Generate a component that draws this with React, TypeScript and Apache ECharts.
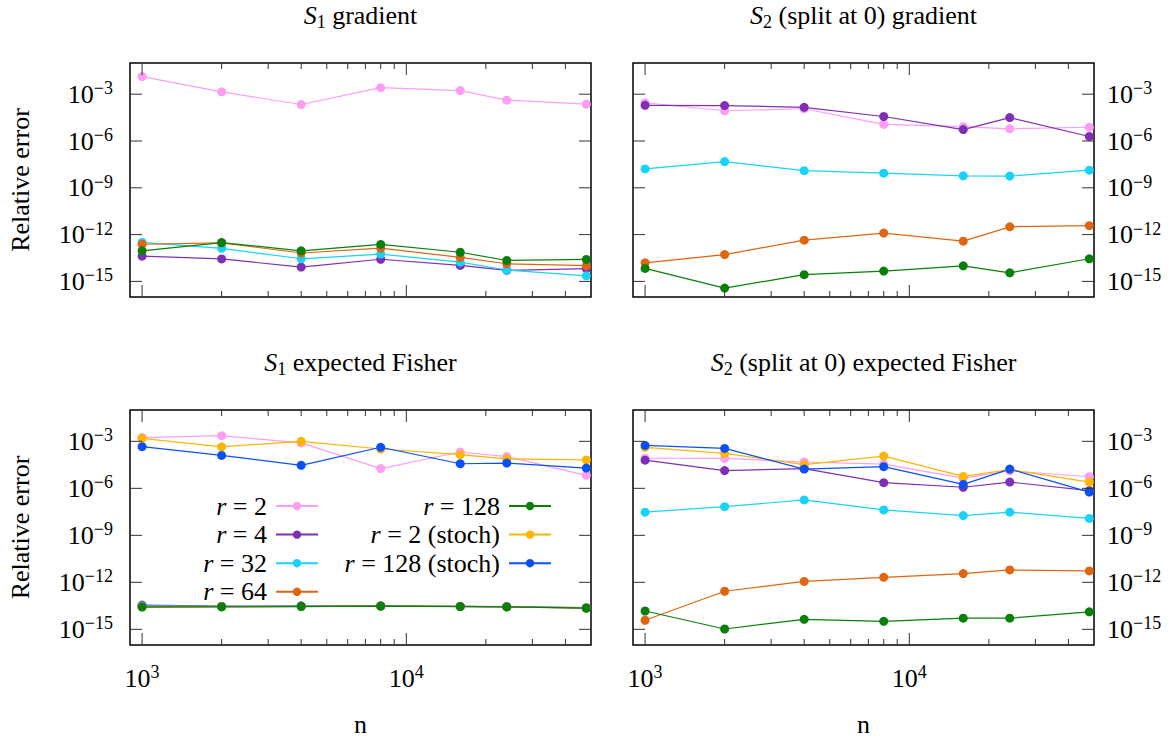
import React, { useEffect, useRef } from 'react';
import * as echarts from 'echarts';

const FONT = "'Liberation Serif', 'DejaVu Serif', serif";

// x values (n) and axis ticks
const nValues = [1000, 2000, 4000, 8000, 16000, 24000, 48000];
const xMajorTicks = [1000, 10000];
const xMajorExps = ['3', '4'];
const xMinorTicks = [2000, 3000, 4000, 5000, 6000, 7000, 8000, 9000, 20000, 30000, 40000];
const yTickValues = [1e-3, 1e-6, 1e-9, 1e-12, 1e-15];
const yTickExps = ['\u22123', '\u22126', '\u22129', '\u221212', '\u221215'];
const X_MIN = 900;
const X_MAX = 50000;
const Y_MIN = 1e-16;
const Y_MAX = 1e-1;

const seriesNames = ['r = 2', 'r = 4', 'r = 32', 'r = 64', 'r = 128', 'r = 2 (stoch)', 'r = 128 (stoch)'];
const seriesColors = ['#fd9ef4', '#7e2fb4', '#17d3f7', '#e06510', '#0a800a', '#fdb600', '#0a50f7'];

// S1 gradient
const s1GradR2 = [1.35e-2, 1.41e-3, 2.19e-4, 2.63e-3, 1.70e-3, 4.17e-4, 2.29e-4];
const s1GradR4 = [4.17e-14, 2.75e-14, 8.32e-15, 2.63e-14, 1.05e-14, 5.13e-15, 6.61e-15];
const s1GradR32 = [3.16e-13, 1.32e-13, 2.82e-14, 5.62e-14, 1.70e-14, 5.37e-15, 2.29e-15];
const s1GradR64 = [2.40e-13, 2.95e-13, 6.61e-14, 1.35e-13, 3.47e-14, 1.35e-14, 1.02e-14];
const s1GradR128 = [9.12e-14, 3.09e-13, 9.12e-14, 2.34e-13, 7.41e-14, 2.19e-14, 2.57e-14];

// S2 (split at 0) gradient
const s2GradR2 = [2.82e-4, 8.71e-5, 1.17e-4, 1.15e-5, 8.32e-6, 6.03e-6, 7.59e-6];
const s2GradR4 = [1.95e-4, 1.86e-4, 1.45e-4, 3.72e-5, 5.37e-6, 3.16e-5, 1.95e-6];
const s2GradR32 = [1.62e-8, 4.79e-8, 1.26e-8, 8.71e-9, 5.89e-9, 5.62e-9, 1.35e-8];
const s2GradR64 = [1.55e-14, 5.25e-14, 4.37e-13, 1.26e-12, 3.80e-13, 3.16e-12, 3.72e-12];
const s2GradR128 = [6.76e-15, 3.72e-16, 2.69e-15, 4.57e-15, 1.0e-14, 3.55e-15, 2.82e-14];

// S1 expected Fisher
const s1FishR2 = [1.74e-3, 2.29e-3, 7.94e-4, 1.82e-5, 2.09e-4, 1.07e-4, 6.76e-6];
const s1FishR4 = [3.55e-14, 3.02e-14, 3.16e-14, 3.16e-14, 2.95e-14, 2.82e-14, 2.40e-14];
const s1FishR32 = [3.16e-14, 2.88e-14, 3.02e-14, 3.09e-14, 2.88e-14, 2.75e-14, 2.34e-14];
const s1FishR64 = [2.82e-14, 2.82e-14, 2.95e-14, 3.09e-14, 2.88e-14, 2.75e-14, 2.29e-14];
const s1FishR128 = [2.63e-14, 2.69e-14, 2.82e-14, 3.02e-14, 2.82e-14, 2.69e-14, 2.24e-14];
const s1FishStoch2 = [1.55e-3, 4.47e-4, 1.0e-3, 3.24e-4, 1.41e-4, 7.59e-5, 6.46e-5];
const s1FishStoch128 = [4.57e-4, 1.26e-4, 2.95e-5, 4.17e-4, 3.72e-5, 4.07e-5, 1.95e-5];

// S2 (split at 0) expected Fisher
const s2FishR2 = [8.32e-5, 8.13e-5, 4.79e-5, 3.55e-5, 4.47e-6, 1.32e-5, 5.50e-6];
const s2FishR4 = [6.31e-5, 1.35e-5, 1.82e-5, 2.29e-6, 1.17e-6, 2.51e-6, 7.24e-7];
const s2FishR32 = [3.02e-8, 6.76e-8, 1.82e-7, 4.17e-8, 1.82e-8, 3.02e-8, 1.20e-8];
const s2FishR64 = [3.80e-15, 2.69e-13, 1.15e-12, 2.09e-12, 3.63e-12, 6.17e-12, 5.37e-12];
const s2FishR128 = [1.48e-14, 1.05e-15, 4.37e-15, 3.24e-15, 5.13e-15, 5.13e-15, 1.32e-14];
const s2FishStoch2 = [4.17e-4, 1.70e-4, 3.24e-5, 1.15e-4, 5.75e-6, 1.58e-5, 2.51e-6];
const s2FishStoch128 = [5.50e-4, 3.55e-4, 1.70e-5, 2.40e-5, 1.78e-6, 1.70e-5, 5.75e-7];

const panelTitles = [
  '{i|S}{sub|1} gradient',
  '{i|S}{sub|2} (split at 0) gradient',
  '{i|S}{sub|1} expected Fisher',
  '{i|S}{sub|2} (split at 0) expected Fisher',
];

const panelData: (number[] | null)[][] = [
  [s1GradR2, s1GradR4, s1GradR32, s1GradR64, s1GradR128, null, null],
  [s2GradR2, s2GradR4, s2GradR32, s2GradR64, s2GradR128, null, null],
  [s1FishR2, s1FishR4, s1FishR32, s1FishR64, s1FishR128, s1FishStoch2, s1FishStoch128],
  [s2FishR2, s2FishR4, s2FishR32, s2FishR64, s2FishR128, s2FishStoch2, s2FishStoch128],
];

const grids = [
  { left: 130, top: 63, width: 461, height: 234 },
  { left: 633, top: 63, width: 461, height: 234 },
  { left: 130, top: 410, width: 461, height: 235 },
  { left: 633, top: 410, width: 461, height: 235 },
];

const TICK = '#333';
const supRich = {
  b: { fontSize: 26, fontFamily: FONT, color: '#000' },
  s: { fontSize: 18, fontFamily: FONT, color: '#000', padding: [0, 0, 12, 0] },
};
const supRichZr = {
  b: { fontSize: 26, fontFamily: FONT, fill: '#000' },
  s: { fontSize: 18, fontFamily: FONT, fill: '#000', padding: [0, 0, 12, 0] },
};

function buildOption() {
  const xAxis: any[] = [];
  const yAxis: any[] = [];
  const series: any[] = [];
  const graphic: any[] = [];

  grids.forEach((g, p) => {
    const bottomRow = p >= 2;
    const leftCol = p % 2 === 0;
    xAxis.push({
      type: 'log', logBase: 10, gridIndex: p, min: X_MIN, max: X_MAX,
      axisLine: { show: false }, axisTick: { show: false }, splitLine: { show: false },
      axisLabel: {
        show: bottomRow, margin: 18, fontFamily: FONT,
        formatter: (v: number) => {
          const idx = xMajorTicks.findIndex((t) => Math.abs(t - v) / t < 1e-6);
          return idx < 0 ? '' : `{b|10}{s|${xMajorExps[idx]}}`;
        },
        rich: supRich,
      },
      name: bottomRow ? 'n' : '', nameLocation: 'middle', nameGap: 66,
      nameTextStyle: { fontSize: 26, fontFamily: FONT, color: '#000' },
    });
    yAxis.push({
      type: 'log', logBase: 10, gridIndex: p, min: Y_MIN, max: Y_MAX,
      axisLine: { show: false }, axisTick: { show: false }, splitLine: { show: false },
      axisLabel: { show: false },
      name: leftCol ? 'Relative error' : '', nameLocation: 'middle', nameRotate: 90, nameGap: 97,
      nameTextStyle: { fontSize: 26, fontFamily: FONT, color: '#000' },
    });

    // x ticks (major + minor, bottom + top)
    const xTickData = [
      ...xMajorTicks.map((v) => [v, Y_MIN, 12]),
      ...xMinorTicks.map((v) => [v, Y_MIN, 6]),
    ];
    series.push({
      type: 'custom', xAxisIndex: p, yAxisIndex: p, silent: true, clip: false, z: 5,
      data: xTickData, encode: { x: 0, y: 1 },
      renderItem: (params: any, api: any) => {
        const v = api.value(0);
        const len = api.value(2);
        const pb = api.coord([v, Y_MIN]);
        const pt = api.coord([v, Y_MAX]);
        return {
          type: 'group',
          children: [
            { type: 'line', shape: { x1: pb[0], y1: pb[1], x2: pb[0], y2: pb[1] - len }, style: { stroke: TICK, lineWidth: 1 } },
            { type: 'line', shape: { x1: pt[0], y1: pt[1], x2: pt[0], y2: pt[1] + len }, style: { stroke: TICK, lineWidth: 1 } },
          ],
        };
      },
    });

    // y ticks + labels
    series.push({
      type: 'custom', xAxisIndex: p, yAxisIndex: p, silent: true, clip: false, z: 5,
      data: yTickValues.map((v) => [X_MIN, v]), encode: { x: 0, y: 1 },
      renderItem: (params: any, api: any) => {
        const v = api.value(1);
        const pl = api.coord([X_MIN, v]);
        const pr = api.coord([X_MAX, v]);
        const exp = yTickExps[params.dataIndex];
        return {
          type: 'group',
          children: [
            { type: 'line', shape: { x1: pl[0], y1: pl[1], x2: pl[0] + 12, y2: pl[1] }, style: { stroke: TICK, lineWidth: 1 } },
            { type: 'line', shape: { x1: pr[0], y1: pr[1], x2: pr[0] - 12, y2: pr[1] }, style: { stroke: TICK, lineWidth: 1 } },
            {
              type: 'text',
              x: leftCol ? pl[0] - 17 : pr[0] + 13,
              y: pl[1],
              style: {
                text: `{b|10}{s|${exp}}`,
                rich: supRichZr,
                align: leftCol ? 'right' : 'left',
                verticalAlign: 'middle',
                fill: '#000',
                fontFamily: FONT,
                fontSize: 26,
              },
            },
          ],
        };
      },
    });

    panelData[p].forEach((vals, s) => {
      if (!vals) return;
      series.push({
        type: 'line', name: seriesNames[s], xAxisIndex: p, yAxisIndex: p,
        data: nValues.map((n, i) => [n, vals[i]]),
        symbol: 'circle', symbolSize: 9, showSymbol: true, clip: false,
        lineStyle: { width: 1.2, color: seriesColors[s] },
        itemStyle: { color: seriesColors[s] },
        emphasis: { disabled: true },
      });
    });

    graphic.push({
      type: 'text',
      x: g.left + g.width / 2,
      y: g.top - 48,
      style: {
        text: panelTitles[p],
        align: 'center',
        verticalAlign: 'middle',
        fill: '#000',
        fontFamily: FONT,
        fontSize: 26,
        rich: {
          i: { fontStyle: 'italic', fontSize: 26, fontFamily: FONT, fill: '#000' },
          sub: { fontSize: 18, fontFamily: FONT, fill: '#000', padding: [14, 0, 0, 0] },
        },
      },
    });
  });

  const legendBase = {
    orient: 'vertical', align: 'right', itemWidth: 42, itemHeight: 10.5, itemGap: 2.6,
    padding: 0, selectedMode: false, top: 493,
    formatter: (name: string) => name.replace(/^r/, '{i|r}'),
    textStyle: {
      fontSize: 26, fontFamily: FONT, color: '#000', lineHeight: 20, padding: [0, 4, 0, 0],
      rich: { i: { fontStyle: 'italic', fontSize: 26, fontFamily: FONT, lineHeight: 20 } },
    },
  };

  return {
    animation: false,
    backgroundColor: '#fff',
    textStyle: { fontFamily: FONT },
    grid: grids.map((g) => ({ ...g, show: true, borderColor: '#000', borderWidth: 1.5, backgroundColor: 'transparent' })),
    xAxis,
    yAxis,
    legend: [
      { ...legendBase, data: seriesNames.slice(0, 4), right: 1176 - 319 },
      { ...legendBase, data: seriesNames.slice(4), right: 1176 - 552 },
    ],
    graphic,
    series,
  };
}

export default function App() {
  const ref = useRef<HTMLDivElement>(null);
  useEffect(() => {
    document.body.style.margin = '0';
    const chart = echarts.init(ref.current!, null, { renderer: 'svg' });
    chart.setOption(buildOption() as any);
    return () => chart.dispose();
  }, []);
  return <div ref={ref} style={{ width: 1176, height: 738, background: '#fff' }} />;
}
